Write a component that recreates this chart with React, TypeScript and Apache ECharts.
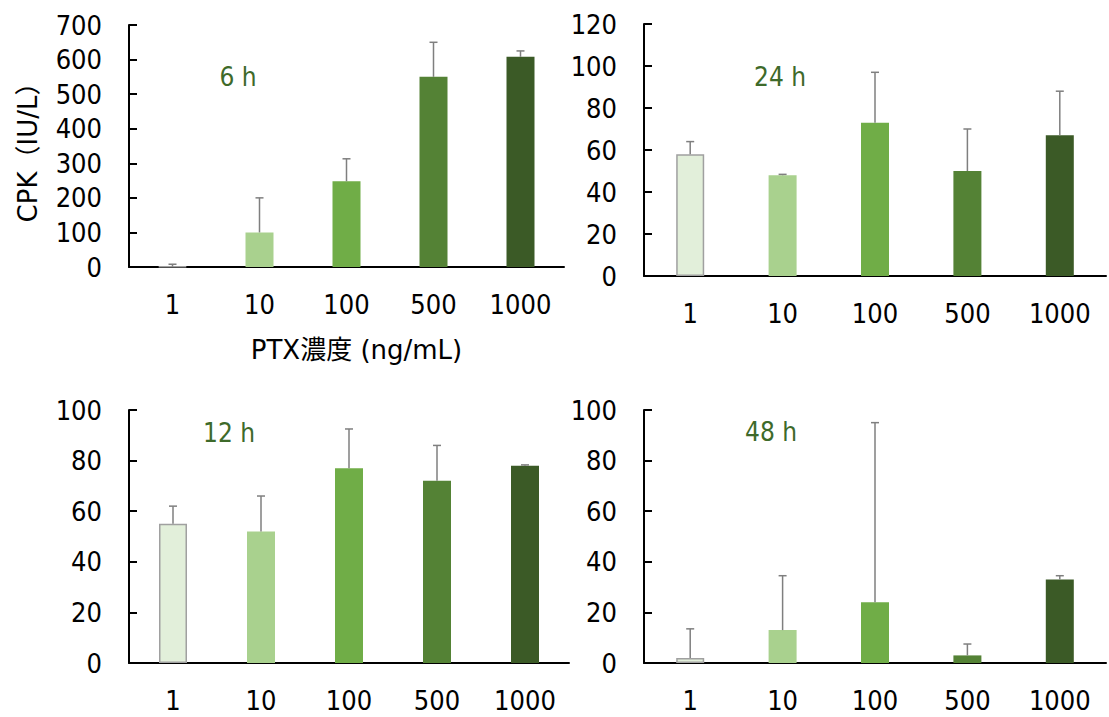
import React, { useEffect, useRef } from "react";
import * as echarts from "echarts";

const categories = ["1", "10", "100", "500", "1000"];
const panelTitles = ["6 h", "24 h", "12 h", "48 h"];
const means6h = [1, 100, 248, 550, 608];
const errTop6h = [8, 200, 313, 650, 625];
const means24h = [58, 48, 73, 50, 67];
const errTop24h = [64, 48.4, 97, 70, 88];
const means12h = [55, 52, 77, 72, 78];
const errTop12h = [62, 66, 92.5, 86, 78.3];
const means48h = [2, 13, 24, 3, 33];
const errTop48h = [13.5, 34.5, 95, 7.5, 34.5];
const yMaxes = [700, 120, 100, 100];
const yIntervals = [100, 20, 20, 20];
const yAxisTitle = "CPK（IU/L）";
const xAxisTitle = "PTX濃度 (ng/mL)";

const barColors = ["#e2efda", "#a9d18e", "#70ad47", "#548235", "#3b5a26"];
const FONT = "'DejaVu Sans Condensed', 'DejaVu Sans', 'Noto Sans CJK JP', sans-serif";
const NAME_FONT = "'DejaVu Sans', 'Noto Sans CJK JP', sans-serif";

const panelMeans = [means6h, means24h, means12h, means48h];
const panelTops = [errTop6h, errTop24h, errTop12h, errTop48h];

const grids = [
  { left: 129, top: 25, width: 435, height: 242 },
  { left: 644, top: 24, width: 462, height: 252 },
  { left: 129, top: 410, width: 440, height: 253 },
  { left: 644, top: 410, width: 462, height: 253 },
];
const titlePos = [
  [238, 77],
  [780, 77],
  [229, 433],
  [771, 432],
];

export default function App() {
  const ref = useRef<HTMLDivElement>(null);
  useEffect(() => {
    document.body.style.margin = "0";
    const chart = echarts.init(ref.current!, null, { renderer: "svg" });
    const xAxes: any[] = [];
    const yAxes: any[] = [];
    const series: any[] = [];
    grids.forEach((g, i) => {
      xAxes.push({
        type: "category",
        gridIndex: i,
        data: categories,
        axisLine: { lineStyle: { color: "#000", width: 2 } },
        axisTick: { show: false },
        axisLabel: { color: "#000", fontSize: 27, fontFamily: FONT, margin: 24 },
        name: i === 0 ? xAxisTitle : "",
        nameLocation: "middle",
        nameGap: 70,
        nameTextStyle: { color: "#000", fontSize: 26, fontFamily: NAME_FONT, padding: [0, 0, 0, 20] },
      });
      yAxes.push({
        type: "value",
        gridIndex: i,
        min: 0,
        max: yMaxes[i],
        interval: yIntervals[i],
        splitLine: { show: false },
        axisLine: { show: true, lineStyle: { color: "#000", width: 2 } },
        axisTick: { show: true, inside: true, length: 8, lineStyle: { color: "#000", width: 2 } },
        axisLabel: { color: "#000", fontSize: 27, fontFamily: FONT, margin: 27 },
        name: i === 0 ? yAxisTitle : "",
        nameLocation: "middle",
        nameGap: 88,
        nameRotate: 90,
        nameTextStyle: { color: "#000", fontSize: 26, fontFamily: NAME_FONT },
      });
      series.push({
        type: "bar",
        xAxisIndex: i,
        yAxisIndex: i,
        barWidth: 28,
        data: panelMeans[i].map((v, k) => ({
          value: v,
          itemStyle: {
            color: barColors[k],
            borderColor: k === 0 ? "#a0a0a0" : barColors[k],
            borderWidth: k === 0 ? 1.5 : 0,
          },
        })),
      });
      series.push({
        type: "custom",
        xAxisIndex: i,
        yAxisIndex: i,
        z: 10,
        data: panelMeans[i].map((v, k) => [k, v, panelTops[i][k]]),
        renderItem: (params: any, api: any) => {
          const x = api.value(0);
          const p0 = api.coord([x, api.value(1)]);
          const p1 = api.coord([x, api.value(2)]);
          const style = { stroke: "#7f7f7f", lineWidth: 1.5 };
          return {
            type: "group",
            children: [
              { type: "line", shape: { x1: p0[0], y1: p0[1], x2: p1[0], y2: p1[1] }, style },
              { type: "line", shape: { x1: p1[0] - 4, y1: p1[1], x2: p1[0] + 4, y2: p1[1] }, style },
            ],
          };
        },
      });
    });
    chart.setOption({
      animation: false,
      backgroundColor: "#fff",
      grid: grids.map((g) => ({ ...g, containLabel: false })),
      xAxis: xAxes,
      yAxis: yAxes,
      series,
      graphic: panelTitles.map((t, i) => ({
        type: "text",
        x: titlePos[i][0],
        y: titlePos[i][1],
        style: {
          text: t,
          fill: "#3e6a2a",
          fontSize: 26,
          fontFamily: FONT,
          align: "center",
          verticalAlign: "middle",
        },
      })),
    });
    return () => chart.dispose();
  }, []);
  return <div ref={ref} style={{ width: 1109, height: 717 }} />;
}
